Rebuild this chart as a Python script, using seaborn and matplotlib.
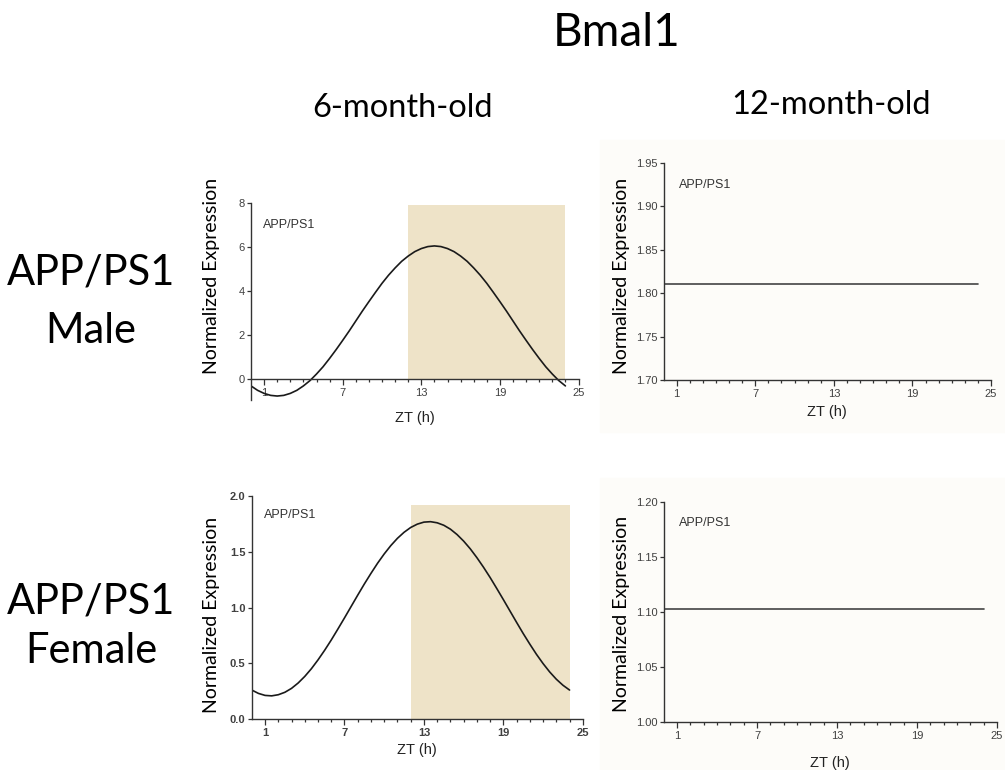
import matplotlib
matplotlib.use("Agg")
import matplotlib.pyplot as plt
from matplotlib.patches import Rectangle
from matplotlib.ticker import FixedLocator, FormatStrFormatter
import pandas as pd
import seaborn as sns

# ---------------- data ----------------
zt_hours = [i * 0.5 for i in range(49)]
male_6mo = [-0.31, -0.51, -0.65, -0.74, -0.77, -0.74, -0.65, -0.51, -0.31, -0.07,
            0.23, 0.56, 0.94, 1.34, 1.76, 2.19, 2.64, 3.09, 3.52, 3.94,
            4.35, 4.72, 5.05, 5.35, 5.59, 5.79, 5.93, 6.02, 6.05, 6.02,
            5.93, 5.79, 5.59, 5.35, 5.05, 4.72, 4.35, 3.94, 3.52, 3.09,
            2.64, 2.19, 1.76, 1.34, 0.94, 0.56, 0.23, -0.07, -0.31]
female_6mo = [0.262, 0.232, 0.214, 0.210, 0.220, 0.242, 0.277, 0.325, 0.384, 0.453,
              0.532, 0.618, 0.710, 0.808, 0.908, 1.010, 1.112, 1.212, 1.307, 1.398,
              1.481, 1.556, 1.621, 1.675, 1.718, 1.748, 1.766, 1.770, 1.760, 1.738,
              1.703, 1.655, 1.596, 1.527, 1.448, 1.362, 1.270, 1.172, 1.072, 0.970,
              0.868, 0.768, 0.673, 0.582, 0.499, 0.424, 0.359, 0.305, 0.262]
flat_hours = [0, 24]
male_12mo = [1.81, 1.81]
female_12mo = [1.102, 1.102]
dark_phase = [12, 24]
shade_top_male = 7.9
shade_top_female = 1.92

x_ticks = [1, 7, 13, 19, 25]
yticks_m6 = [0, 2, 4, 6, 8]
yticks_m12 = [1.70, 1.75, 1.80, 1.85, 1.90, 1.95]
yticks_f6 = [0.0, 0.5, 1.0, 1.5, 2.0]
yticks_f12 = [1.00, 1.05, 1.10, 1.15, 1.20]

title = "Bmal1"
col_titles = ["6-month-old", "12-month-old"]
row_titles = [["APP/PS1", "Male"], ["APP/PS1", "Female"]]
panel_tag = "APP/PS1"
xlabel = "ZT (h)"
ylabel = "Normalized Expression"

# ---------------- style ----------------
sns.set_theme(style="ticks")
plt.rcParams["font.family"] = ["Liberation Sans", "DejaVu Sans"]
HUM = ["Lato", "DejaVu Sans"]
ARIAL = ["Liberation Sans", "DejaVu Sans"]
SPINE = "#333333"
TICKC = "#404040"
TAN = "#EEE3C8"
CREAM = "#FDFCF9"

W, H = 1005, 770
fig = plt.figure(figsize=(W / 100, H / 100), dpi=100)
fig.patch.set_facecolor("white")


def rect(x0, y0, x1, y1):
    return [x0 / W, 1 - y1 / H, (x1 - x0) / W, (y1 - y0) / H]


def fx(x):
    return x / W


def fy(y):
    return 1 - y / H


# faint cream background behind the right-hand panels
for (x0, y0, x1, y1) in [(600, 140, 1005, 432), (600, 478, 1005, 770)]:
    fig.patches.append(Rectangle((fx(x0), fy(y1)), (x1 - x0) / W, (y1 - y0) / H,
                                 transform=fig.transFigure, color=CREAM, zorder=-5))

ax_tl = fig.add_axes(rect(251, 203, 578.5, 400))
ax_tr = fig.add_axes(rect(663.6, 162.7, 991, 380))
ax_bl = fig.add_axes(rect(251.8, 496, 582.8, 719.3))
ax_br = fig.add_axes(rect(663.7, 501.7, 997, 721.7))

df_m6 = pd.DataFrame({"ZT": zt_hours, "expr": male_6mo})
df_f6 = pd.DataFrame({"ZT": zt_hours, "expr": female_6mo})
df_m12 = pd.DataFrame({"ZT": flat_hours, "expr": male_12mo})
df_f12 = pd.DataFrame({"ZT": flat_hours, "expr": female_12mo})

ax_tl.fill_between(dark_phase, 0, shade_top_male, color=TAN, lw=0, zorder=0)
ax_bl.fill_between(dark_phase, 0, shade_top_female, color=TAN, lw=0, zorder=0)

sns.lineplot(data=df_m6, x="ZT", y="expr", ax=ax_tl, color="#1a1a1a", lw=1.2)
sns.lineplot(data=df_f6, x="ZT", y="expr", ax=ax_bl, color="#1a1a1a", lw=1.2)
sns.lineplot(data=df_m12, x="ZT", y="expr", ax=ax_tr, color="#444444", lw=1.2)
sns.lineplot(data=df_f12, x="ZT", y="expr", ax=ax_br, color="#444444", lw=1.2)

configs = [
    (ax_tl, yticks_m6, (-0.95, 8), "%d", False),
    (ax_tr, yticks_m12, (1.70, 1.95), "%.2f", False),
    (ax_bl, yticks_f6, (0.0, 2.0), "%.1f", True),
    (ax_br, yticks_f12, (1.00, 1.20), "%.2f", False),
]
for ax, yt, ylim, fmt, bold in configs:
    ax.set_facecolor("none")
    ax.set_xlim(0, 25)
    ax.set_ylim(*ylim)
    ax.xaxis.set_major_locator(FixedLocator(x_ticks))
    ax.xaxis.set_minor_locator(FixedLocator([h for h in range(2, 25) if h not in x_ticks]))
    ax.yaxis.set_major_locator(FixedLocator(yt))
    ax.yaxis.set_major_formatter(FormatStrFormatter(fmt))
    for s in ["top", "right"]:
        ax.spines[s].set_visible(False)
    for s in ["left", "bottom"]:
        ax.spines[s].set_color(SPINE)
        ax.spines[s].set_linewidth(1.0)
    ax.tick_params(axis="both", which="major", direction="out", color=SPINE,
                   labelcolor=TICKC, labelsize=8, width=0.9)
    ax.tick_params(axis="x", which="major", length=4.5, pad=2)
    ax.tick_params(axis="x", which="minor", length=2.5, width=0.9, color=SPINE)
    ax.tick_params(axis="y", which="major", length=3, pad=1.5)
    for lab in ax.get_xticklabels() + ax.get_yticklabels():
        lab.set_fontfamily(ARIAL)
        if bold:
            lab.set_fontweight("bold")
    ax.set_xlabel(xlabel, fontsize=10.5, family=ARIAL, color="#222222")
    ax.set_ylabel(ylabel, fontsize=14, family=HUM, color="black", va="center")

ax_tl.spines["bottom"].set_position(("data", 0))

ax_tl.xaxis.set_label_coords(0.5, -0.058)
ax_tr.xaxis.set_label_coords(0.5, -0.115)
ax_bl.xaxis.set_label_coords(0.5, -0.108)
ax_br.xaxis.set_label_coords(0.5, -0.158)

ax_tl.yaxis.set_label_coords(-0.122, 0.63)
ax_tr.yaxis.set_label_coords(-0.130, 0.479)
ax_bl.yaxis.set_label_coords(-0.123, 0.467)
ax_br.yaxis.set_label_coords(-0.128, 0.49)

# in-panel tags
for (x, y) in [(263, 228), (679, 187.5), (264, 517.5), (679, 526.5)]:
    fig.text(fx(x), fy(y), panel_tag, family=ARIAL, fontsize=9, color="#333333",
             ha="left", va="baseline")

# titles
fig.text(fx(617), fy(46), title, family=HUM, fontsize=33, color="black",
         ha="center", va="baseline")
fig.text(fx(402), fy(116.7), col_titles[0], family=HUM, fontsize=23.5, color="black",
         ha="center", va="baseline")
fig.text(fx(831), fy(114), col_titles[1], family=HUM, fontsize=23.5, color="black",
         ha="center", va="baseline")

for (lines, ys) in [(row_titles[0], (285, 343)), (row_titles[1], (613, 663))]:
    for txt, yb in zip(lines, ys):
        fig.text(fx(91), fy(yb), txt, family=HUM, fontsize=30, color="black",
                 ha="center", va="baseline")

fig.savefig("out.png", dpi=100, facecolor="white")
